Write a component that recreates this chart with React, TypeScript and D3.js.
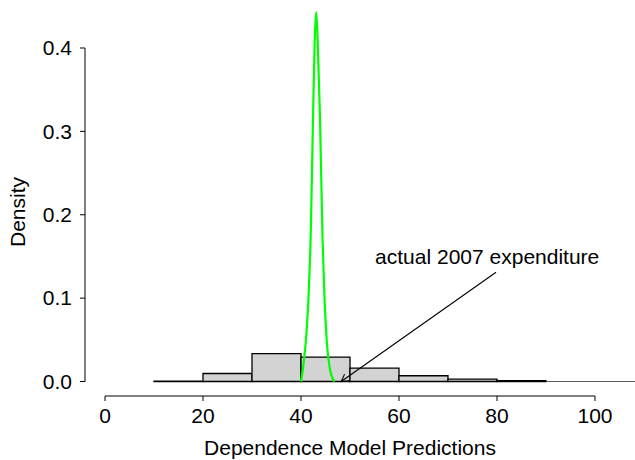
import * as d3 from 'd3';
import React from 'react';

// histogram of the predictions (bin left edges, width 10)
const binStarts = [10, 20, 30, 40, 50, 60, 70, 80, 90, 100, 110];
const binDensity = [0.0005, 0.0096, 0.0334, 0.0293, 0.016, 0.0069, 0.0028, 0.001, 0, 0, 0];

// green density curve
const curveX = [40.0, 40.5, 41.2, 41.6, 42.0, 42.45, 42.8, 43.1, 43.4, 43.88, 44.4, 44.8, 45.3, 45.9, 46.5, 46.85];
const curveY = [0.0, 0.02, 0.065, 0.11, 0.18, 0.315, 0.41, 0.443, 0.41, 0.315, 0.17, 0.1, 0.045, 0.015, 0.003, 0.0];

const xTicks = [0, 20, 40, 60, 80, 100];
const yTicks = [0, 0.1, 0.2, 0.3, 0.4];

const noteText = 'actual 2007 expenditure';
const noteAt = [78, 0.15];
const arrowFrom = [79.8, 0.131];
const arrowTo = [48.2, 0];

const font = '"Liberation Sans", Arial, Helvetica, sans-serif';
const fs = 21;

export default function App() {
  const width = 635;
  const height = 460;

  const x = d3.scaleLinear().domain([0, 100]).range([105, 595]);
  const y = d3.scaleLinear().domain([0, 0.4]).range([381.5, 48]);

  const axisY = 396; // x axis line position
  const axisX = 85;  // y axis line position

  const line = d3.line<number>()
    .x((_, i) => x(curveX[i]))
    .y((_, i) => y(curveY[i]))
    .curve(d3.curveMonotoneX);

  // arrow head
  const x1 = x(arrowFrom[0]), y1 = y(arrowFrom[1]);
  const x2 = x(arrowTo[0]), y2 = y(arrowTo[1]);
  const ang = Math.atan2(y2 - y1, x2 - x1);
  const headLen = 8;
  const headAng = Math.PI / 6;
  const h1 = [x2 - headLen * Math.cos(ang - headAng), y2 - headLen * Math.sin(ang - headAng)];
  const h2 = [x2 - headLen * Math.cos(ang + headAng), y2 - headLen * Math.sin(ang + headAng)];

  return (
    <svg width={width} height={height} style={{ position: 'absolute', left: 0, top: 0, background: 'white' }}
      fontFamily={font}>
      {/* histogram bars */}
      {binStarts.map((b, i) => {
        const x0 = x(b), xe = x(b + 10);
        const yt = y(binDensity[i]), yb = y(0);
        return (
          <path key={'b' + i}
            d={`M${x0},${yb}V${yt}H${xe}V${yb}Z`}
            fill="#d3d3d3"
            stroke={binDensity[i] > 0 ? '#000' : '#555'}
            strokeWidth={binDensity[i] > 0 ? 1.3 : 0.8} />
        );
      })}

      {/* density curve */}
      <path d={line(curveX) || ''} fill="none" stroke="#00ff00" strokeWidth={2.2} />

      {/* annotation */}
      <line x1={x1} y1={y1} x2={x2} y2={y2} stroke="#000" strokeWidth={1.1} />
      <path d={`M${h1[0]},${h1[1]}L${x2},${y2}L${h2[0]},${h2[1]}`} fill="none" stroke="#000" strokeWidth={1.1} />
      <text x={x(noteAt[0])} y={y(noteAt[1])} dy="0.35em" textAnchor="middle" fontSize={fs} fill="#000">{noteText}</text>

      {/* y axis */}
      <line x1={axisX} x2={axisX} y1={y(0)} y2={y(0.4)} stroke="#000" strokeWidth={1} />
      {yTicks.map(t => (
        <g key={'y' + t}>
          <line x1={axisX - 5} x2={axisX} y1={y(t)} y2={y(t)} stroke="#000" strokeWidth={1} />
          <text x={72} y={y(t)} dy="0.35em" textAnchor="end" fontSize={fs} fill="#000">{t.toFixed(1)}</text>
        </g>
      ))}
      <text transform={`translate(25,212) rotate(-90)`} textAnchor="middle" fontSize={fs} fill="#000">Density</text>

      {/* x axis */}
      <line x1={x(0)} x2={x(100)} y1={axisY} y2={axisY} stroke="#000" strokeWidth={1} />
      {xTicks.map(t => (
        <g key={'x' + t}>
          <line x1={x(t)} x2={x(t)} y1={axisY} y2={axisY + 5} stroke="#000" strokeWidth={1} />
          <text x={x(t)} y={423} textAnchor="middle" fontSize={fs} fill="#000">{t}</text>
        </g>
      ))}
      <text x={x(50)} y={455} textAnchor="middle" fontSize={fs} fill="#000">Dependence Model Predictions</text>
    </svg>
  );
}
